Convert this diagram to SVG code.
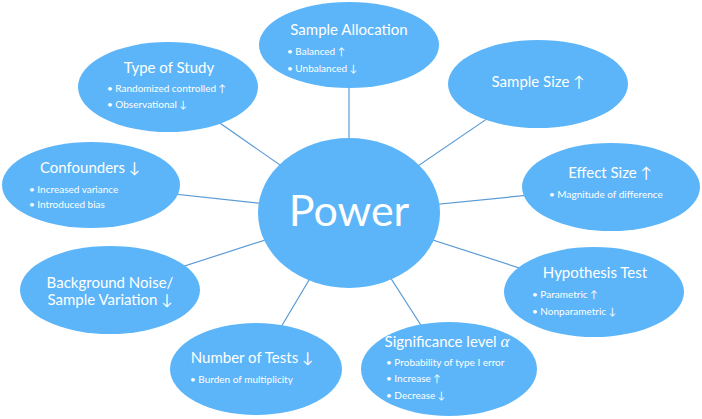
<svg xmlns="http://www.w3.org/2000/svg" width="702" height="419" viewBox="0 0 702 419">
<style>
.n{fill:#5cb5f8}
.c line{stroke:#5b9bd5;stroke-width:1.2}
text{fill:#fff;font-family:Lato,"Open Sans","DejaVu Sans",sans-serif}
.t{font-size:15px;text-anchor:middle}
.b{font-size:10px}
.p{font-size:43px;text-anchor:middle}
</style>
<rect width="702" height="419" fill="#fff"/>
<g id="connectors" class="c">
<line x1="349" y1="213" x2="349" y2="45"/>
<line x1="349" y1="213" x2="168" y2="87"/>
<line x1="349" y1="213" x2="91" y2="185"/>
<line x1="349" y1="213" x2="110" y2="290"/>
<line x1="349" y1="213" x2="256" y2="369"/>
<line x1="349" y1="213" x2="449" y2="369"/>
<line x1="349" y1="213" x2="594" y2="292"/>
<line x1="349" y1="213" x2="611" y2="187"/>
<line x1="349" y1="213" x2="538" y2="84"/>
</g>
<g id="power">
<ellipse class="n" cx="349" cy="213" rx="91" ry="75"/>
<text class="p" x="349" y="226">Power</text>
</g>
<g id="sample-allocation">
<ellipse class="n" cx="349" cy="45" rx="90" ry="43"/>
<text class="t" x="349" y="35">Sample Allocation</text>
<text class="b" x="287" y="55">• Balanced ↑</text>
<text class="b" x="287" y="72">• Unbalanced ↓</text>
</g>
<g id="type-of-study">
<ellipse class="n" cx="168" cy="87" rx="90" ry="45"/>
<text class="t" x="169" y="73">Type of Study</text>
<text class="b" x="107" y="92">• Randomized controlled ↑</text>
<text class="b" x="107" y="108">• Observational ↓</text>
</g>
<g id="confounders">
<ellipse class="n" cx="91" cy="185" rx="89" ry="43"/>
<text class="t" x="90" y="173">Confounders ↓</text>
<text class="b" x="29" y="193">• Increased variance</text>
<text class="b" x="29" y="208">• Introduced bias</text>
</g>
<g id="background-noise">
<ellipse class="n" cx="110" cy="290" rx="90" ry="44"/>
<text class="t" x="110" y="288">Background Noise/</text>
<text class="t" x="110" y="305">Sample Variation ↓</text>
</g>
<g id="number-of-tests">
<ellipse class="n" cx="256" cy="369" rx="86" ry="46"/>
<text class="t" x="252" y="363">Number of Tests ↓</text>
<text class="b" x="190" y="383">• Burden of multiplicity</text>
</g>
<g id="significance-level">
<ellipse class="n" cx="449" cy="369" rx="88" ry="47"/>
<text class="t" x="447" y="347">Significance level <tspan font-family="'Liberation Serif',serif" font-style="italic" font-size="17">α</tspan></text>
<text class="b" x="386" y="366">• Probability of type I error</text>
<text class="b" x="386" y="382">• Increase ↑</text>
<text class="b" x="386" y="399">• Decrease ↓</text>
</g>
<g id="hypothesis-test">
<ellipse class="n" cx="594" cy="292" rx="90" ry="45"/>
<text class="t" x="595" y="278">Hypothesis Test</text>
<text class="b" x="532" y="298">• Parametric ↑</text>
<text class="b" x="532" y="315">• Nonparametric ↓</text>
</g>
<g id="effect-size">
<ellipse class="n" cx="611" cy="187" rx="89" ry="44"/>
<text class="t" x="610" y="178">Effect Size ↑</text>
<text class="b" x="549" y="198">• Magnitude of difference</text>
</g>
<g id="sample-size">
<ellipse class="n" cx="538" cy="84" rx="90" ry="44"/>
<text class="t" x="538" y="87">Sample Size ↑</text>
</g>
</svg>
